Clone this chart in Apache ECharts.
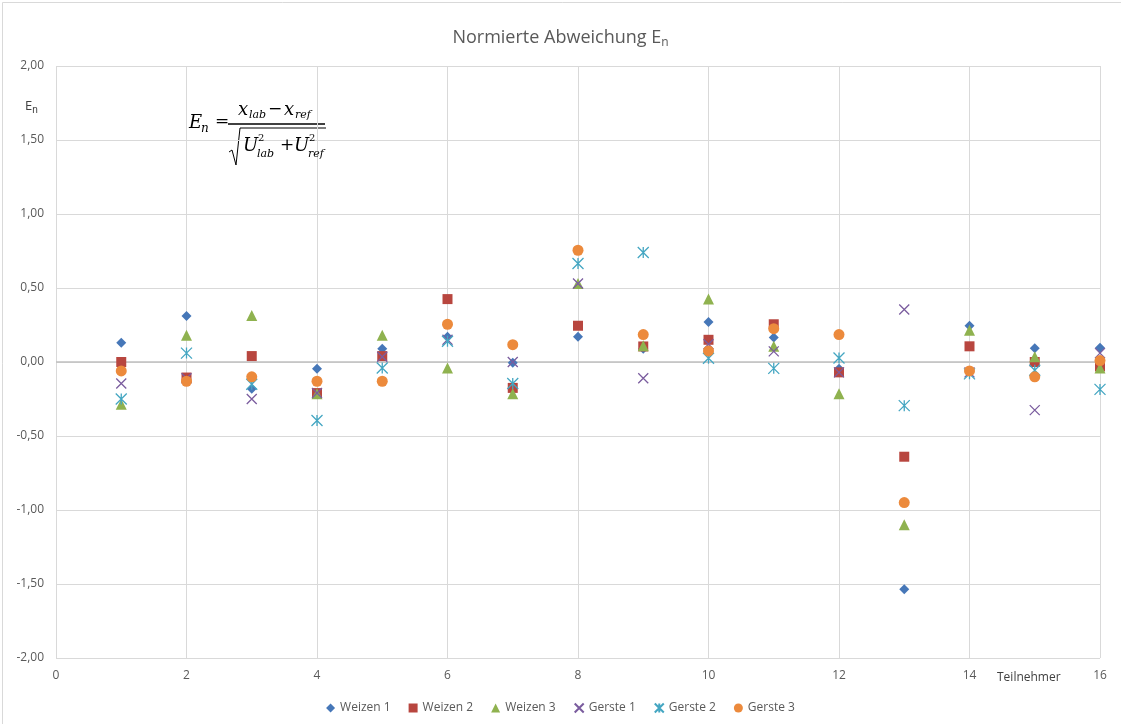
<!DOCTYPE html>
<html><head><meta charset="utf-8">
<script src="https://cdn.jsdelivr.net/npm/echarts@6/dist/echarts.min.js"></script>
<style>html,body{margin:0;padding:0;background:#fff}#c{width:1121px;height:724px}</style>
</head><body><div id="c"></div>
<script>
const participants = [1,2,3,4,5,6,7,8,9,10,11,12,13,14,15,16];
const weizen1 = [0.13, 0.31, -0.18, -0.045, 0.09, 0.17, -0.005, 0.17, 0.09, 0.27, 0.165, -0.045, -1.535, 0.245, 0.093, 0.097];
const weizen2 = [0.00, -0.105, 0.04, -0.21, 0.04, 0.425, -0.175, 0.245, 0.105, 0.15, 0.255, -0.07, -0.64, 0.106, 0.00, -0.03];
const weizen3 = [-0.285, 0.18, 0.315, -0.215, 0.18, -0.04, -0.215, 0.53, 0.11, 0.425, 0.106, -0.215, -1.10, 0.215, 0.036, -0.04];
const gerste1 = [-0.145, -0.11, -0.25, -0.21, 0.035, 0.15, 0.00, 0.53, -0.11, 0.12, 0.072, -0.07, 0.355, -0.07, -0.325, 0.06];
const gerste2 = [-0.25, 0.06, -0.15, -0.395, -0.04, 0.14, -0.145, 0.665, 0.74, 0.025, -0.043, 0.027, -0.295, -0.08, -0.056, -0.185];
const gerste3 = [-0.06, -0.13, -0.10, -0.13, -0.13, 0.255, 0.117, 0.755, 0.185, 0.075, 0.225, 0.185, -0.95, -0.06, -0.10, 0.01];
const seriesNames = ['Weizen 1','Weizen 2','Weizen 3','Gerste 1','Gerste 2','Gerste 3'];
const xTicks = [0,2,4,6,8,10,12,14,16];

const txt = '#595959';
function pts(arr){ return participants.map((p,i)=>[p, arr[i]]); }
const styles = [
  {data: weizen1, symbol:'diamond', size:10, color:'#4677B8'},
  {data: weizen2, symbol:'rect', size:10, color:'#B8463F'},
  {data: weizen3, symbol:'triangle', size:11, color:'#8FB24F'},
  {data: gerste1, symbol:'path://M0,0L10,10M10,0L0,10', size:10, color:'#7A5C9E', stroke:true},
  {data: gerste2, symbol:'path://M0,0L10,10M10,0L0,10M5,0L5,10', size:11, color:'#44A6C2', stroke:true},
  {data: gerste3, symbol:'circle', size:11, color:'#EC8A3C'}
];
const series = styles.map((s,i)=>({
  name: seriesNames[i], type:'scatter', symbol:s.symbol, symbolSize:s.size,
  data: pts(s.data),
  itemStyle: s.stroke ? {color:s.color, borderColor:s.color, borderWidth:1.3, opacity:1} : {color:s.color, opacity:1},
  emphasis:{disabled:true}, z: 3
}));
series[0].markLine = {silent:true, symbol:['none','none'], label:{show:false},
  lineStyle:{color:'#BFBFBF', type:'solid', width:1.5}, data:[{yAxis:0}], z:1};

// formula pieces
const SERIF = '"DejaVu Serif", serif';
function t(str, x, y, size, italic){
  return {type:'text', silent:true, z:10, style:{text:str, x:x, y:y, fill:'#000',
    font:(italic?'italic ':'')+size+'px '+SERIF, verticalAlign:'middle', align:'left'}};
}
const formula = [
  t('E', 189, 123, 18, true), t('n', 201, 129, 12, true), t('=', 215, 122, 17, false),
  t('x', 238, 110, 18, true), t('lab', 249, 115, 11, true), t('\u2212', 268, 110, 17, false),
  t('x', 284, 110, 18, true), t('ref', 295, 115, 11, true),
  {type:'line', silent:true, shape:{x1:228, y1:124, x2:325, y2:124}, style:{stroke:'#000', lineWidth:1.3}},
  {type:'polyline', silent:true, shape:{points:[[229,152],[232,150],[236,165],[240,128],[326,128]]}, style:{stroke:'#000', lineWidth:1, fill:'none'}},
  t('U', 243, 146, 18, true), t('2', 258, 138, 10, false), t('lab', 257, 154, 11, true),
  t('+', 280, 146, 17, false),
  t('U', 294, 146, 18, true), t('2', 309, 138, 10, false), t('ref', 308, 154, 11, true)
];

const chart = echarts.init(document.getElementById('c'));
chart.setOption({
  animation:false,
  backgroundColor:'#fff',
  title:{text:'Normierte Abweichung E{s|n}', left:'center', top:22,
    textStyle:{fontFamily:'"Open Sans", sans-serif', fontSize:18, fontWeight:'normal', color:txt,
      rich:{s:{fontSize:12, verticalAlign:'bottom', padding:[10,0,0,0], color:txt, fontFamily:'"Open Sans", sans-serif'}}}},
  grid:{left:56, right:21, top:66, bottom:66, containLabel:false},
  legend:{bottom:5, left:'center', itemWidth:9, itemHeight:9, itemGap:18,
    textStyle:{color:txt, fontSize:12, fontFamily:'"Open Sans", sans-serif'}, data:seriesNames},
  xAxis:{type:'value', min:0, max:16, interval:2,
    axisLine:{show:false, onZero:false}, axisTick:{show:false},
    axisLabel:{color:txt, fontSize:12, margin:12, fontFamily:'"Open Sans", sans-serif',
      formatter: v => xTicks.includes(v) ? String(v) : ''},
    splitLine:{show:true, lineStyle:{color:'#D9D9D9', width:1}}},
  yAxis:{type:'value', min:-2, max:2, interval:0.5,
    axisLine:{show:false}, axisTick:{show:false},
    axisLabel:{color:txt, fontSize:12, margin:12, fontFamily:'"Open Sans", sans-serif',
      formatter: v => v.toFixed(2).replace('.', ',')},
    splitLine:{show:true, lineStyle:{color:'#D9D9D9', width:1}}},
  graphic:[
    {type:'rect', left:0, top:0, silent:true, shape:{width:1120, height:723}, style:{fill:'none', stroke:'#D9D9D9', lineWidth:1}},
    {type:'text', left:25, top:100, silent:true, style:{text:'E{s|n}', fill:'#404040', font:'13px "Open Sans", sans-serif',
      rich:{s:{fontSize:10, verticalAlign:'bottom', padding:[8,0,0,0], fill:'#404040'}}}},
    {type:'text', left:997, top:672, silent:true, style:{text:'Teilnehmer', fill:'#404040', font:'12px "Open Sans", sans-serif'}}
  ].concat(formula),
  series: series
});
</script></body></html>
